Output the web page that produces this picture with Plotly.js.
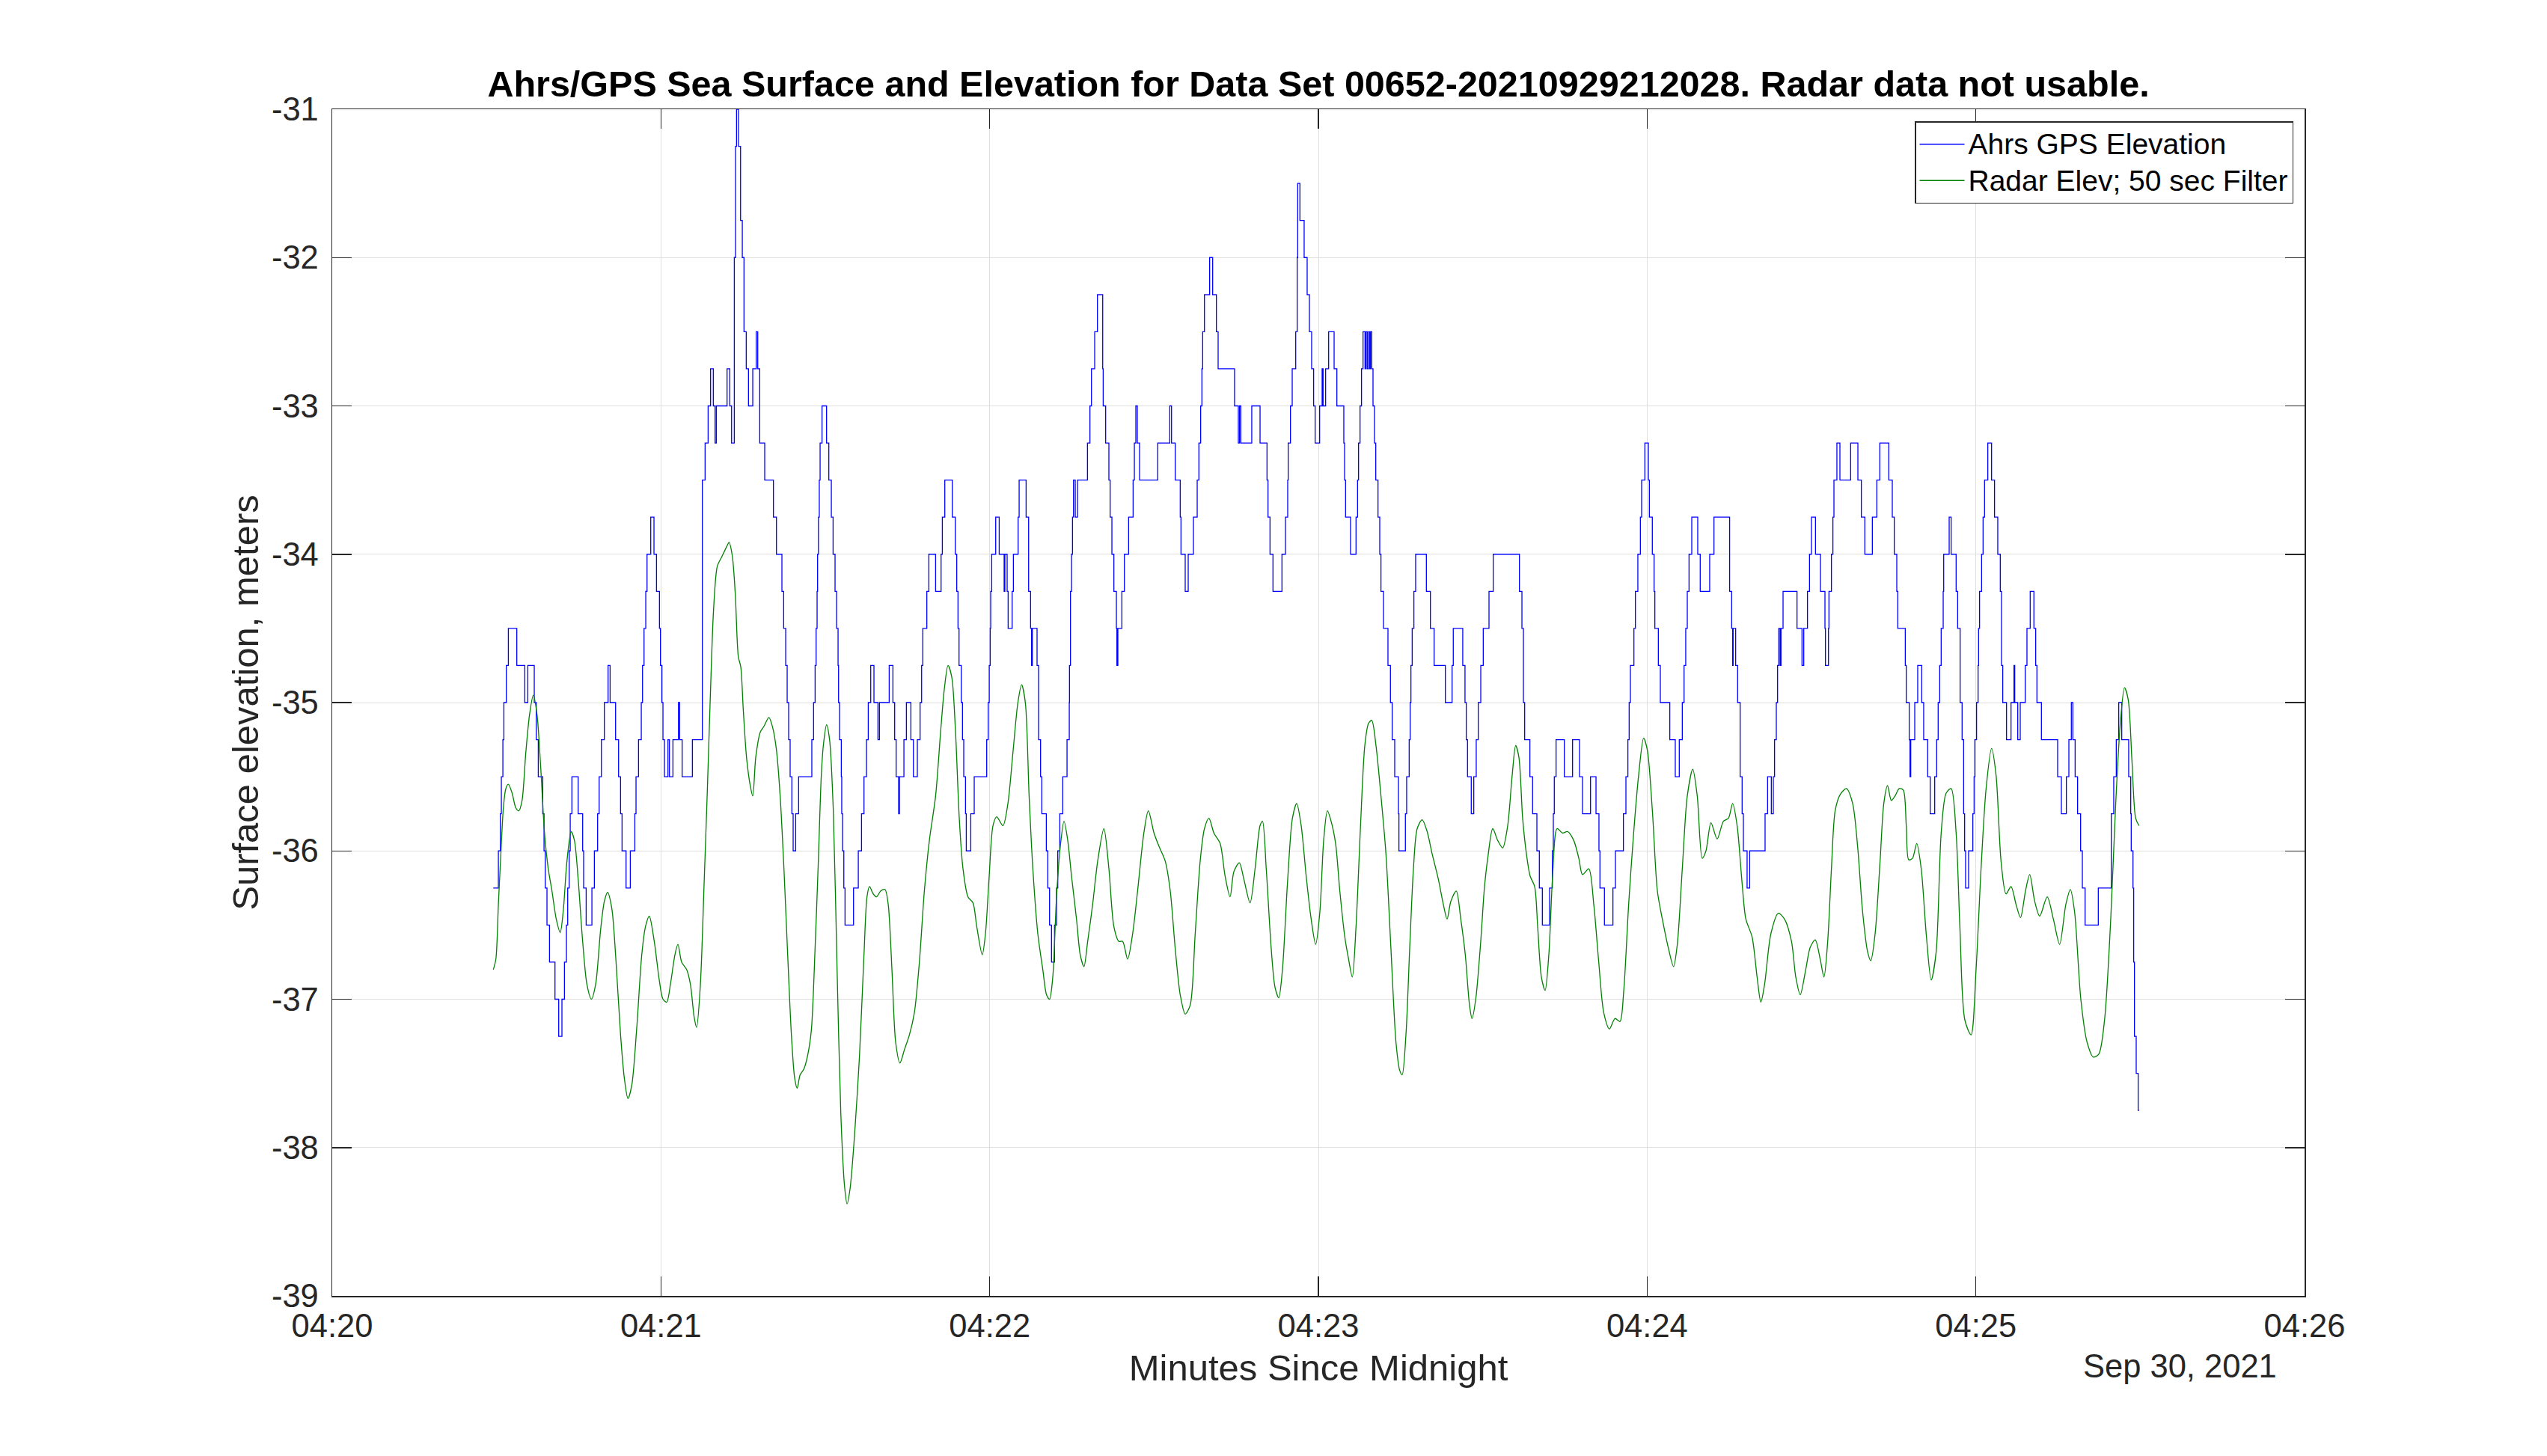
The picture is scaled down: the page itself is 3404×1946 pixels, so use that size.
<!DOCTYPE html>
<html>
<head>
<meta charset="utf-8">
<script src="https://cdn.plot.ly/plotly-3.0.1.min.js"></script>
<style>
  html, body { margin: 0; padding: 0; background: #fff; }
  #plot { width: 3404px; height: 1946px; }
</style>
</head>
<body>
<div id="plot"></div>
<script>
// seconds after 04:20:00 on Sep 30 2021, paired with elevation (m)
const ahrsSteps = [
  [29.4,-36.25],[30.33,-36],[30.69,-35.75],[30.87,-35.5],[31.15,-35.25],[31.33,-35],[31.78,-34.75],[32.15,-34.5],
  [33.69,-34.75],[35.15,-35],[35.70,-34.75],[36.88,-35],[37.24,-35.25],[37.61,-35.5],[38.43,-35.75],[38.66,-36],
  [38.88,-36.25],[39.20,-36.5],[39.66,-36.75],[40.66,-37],[41.34,-37.25],[41.93,-37],[42.39,-36.75],[42.75,-36.5],
  [42.98,-36.25],[43.25,-36],[43.44,-35.75],[43.75,-35.5],[44.89,-35.75],[45.71,-36],[45.89,-36.25],[46.35,-36.5],
  [47.40,-36.25],[47.85,-36],[48.44,-35.75],[48.72,-35.5],[49.13,-35.25],[49.67,-35],[50.35,-34.75],[50.72,-35],
  [51.72,-35.25],[52.27,-35.5],[52.63,-35.75],[52.90,-36],[53.63,-36.25],[54.41,-36],[55.23,-35.75],[55.45,-35.5],
  [55.91,-35.25],[56.41,-35],[56.64,-34.75],[56.91,-34.5],[57.23,-34.25],[57.46,-34],[58.14,-33.75],[58.73,-34],
  [59.19,-34.25],[59.73,-34.5],[59.91,-34.75],[60.18,-35],[60.37,-35.25],[60.64,-35.5],[61.28,-35.25],[61.55,-35.5],
  [62.19,-35.25],[63.19,-35],[63.42,-35.25],[63.87,-35.5],[65.74,-35.25],[67.56,-33.5],[68.06,-33.25],[68.61,-33],
  [69.06,-32.75],[69.56,-33],[69.88,-33.25],[70.11,-33],[72.07,-32.75],[72.57,-33],[72.89,-33.25],[73.39,-32],
  [73.62,-31.25],[73.80,-31],[74.16,-31.25],[74.53,-31.75],[74.85,-32],[75.16,-32.5],[75.57,-32.75],[75.98,-33],
  [76.76,-32.75],[77.39,-32.5],[77.67,-32.75],[78.03,-33.25],[78.94,-33.5],[80.53,-33.75],[81.08,-34],[82.08,-34.25],
  [82.40,-34.5],[82.77,-34.75],[83.04,-35],[83.31,-35.25],[83.58,-35.5],[83.90,-35.75],[84.13,-36],[84.59,-35.75],
  [85.13,-35.5],[87.54,-35.25],[87.86,-35],[88.14,-34.75],[88.32,-34.5],[88.50,-34.25],[88.59,-34],[88.75,-33.75],
  [88.90,-33.5],[89.05,-33.25],[89.40,-33],
  [90.23,-33.25],[90.64,-33.5],[91.10,-33.75],[91.42,-34],[91.78,-34.25],[92.06,-34.5],[92.33,-34.75],[92.42,-35],
  [92.60,-35.25],[92.92,-35.5],[93.00,-35.75],[93.15,-36],[93.38,-36.25],[93.60,-36.5],[95.15,-36.25],[96.02,-36],
  [96.61,-35.75],[97.06,-35.5],[97.52,-35.25],[97.84,-35],[98.29,-34.75],[98.88,-35],[99.61,-35.25],[99.88,-35],
  [101.66,-34.75],[102.34,-35],[102.66,-35.25],[102.93,-35.5],[103.39,-35.75],[103.53,-35.5],[104.35,-35.25],[104.80,-35],
  [105.62,-35.25],[106.08,-35.5],[106.80,-35.25],[107.30,-35],[107.58,-34.75],[107.80,-34.5],[108.53,-34.25],[108.90,-34],
  [110.13,-34.25],[111.13,-34],[111.36,-33.75],[111.81,-33.5],[113.18,-33.75],[113.72,-34],[113.99,-34.25],[114.22,-34.5],
  [114.41,-34.75],[114.82,-35],[115.04,-35.25],[115.27,-35.5],[115.59,-35.75],[115.73,-36],[116.55,-35.75],[117.18,-35.5],
  [119.46,-35.25],[119.73,-35],[119.92,-34.75],[120.10,-34.5],[120.19,-34.25],[120.37,-34],[121.10,-33.75],[121.74,-34],
  [122.64,-34.25],[122.78,-34],[123.19,-34.25],[123.37,-34.5],[124.10,-34.25],[124.33,-34],[125.19,-33.75],[125.38,-33.5],
  [126.65,-33.75],[127.11,-34.25],[127.47,-34.5],[127.65,-34.75],[127.79,-34.5],[128.65,-34.75],[128.93,-35.25],[129.29,-35.5],
  [129.52,-35.75],[130.34,-36],[130.61,-36.25],[130.93,-36.5],[131.29,-36.75],[131.84,-36.5],[132.20,-36.25],[132.43,-36],
  [132.80,-35.75],[133.34,-35.5],[134.12,-35.25],[134.53,-35],[134.57,-34.75],[134.75,-34.25],[134.94,-34],[135.12,-33.75],
  [135.30,-33.5],[135.62,-33.75],[136.03,-33.5],[137.85,-33.25],[138.30,-33],[138.58,-32.75],[139.17,-32.5],[139.67,-32.25],
  [140.63,-32.75],[140.72,-33],[141.17,-33.25],[141.76,-33.5],[141.99,-33.75],[142.31,-34],[142.67,-34.25],[143.13,-34.5],
  [143.22,-34.75],[143.40,-34.5],[144.13,-34.25],[144.59,-34],[145.36,-33.75],[146.18,-33.5],[146.41,-33.25],[146.68,-33],
  [146.95,-33.25],[147.36,-33.5],
  [150.68,-33.25],[152.87,-33],[153.19,-33.25],[153.87,-33.5],[154.78,-33.75],[154.92,-34],[155.69,-34.25],[156.24,-34],
  [157.19,-33.75],[157.88,-33.5],[158.19,-33.25],[158.51,-33],[158.74,-32.75],[158.88,-32.5],[159.20,-32.25],[160.15,-32],
  [160.70,-32.25],[161.38,-32.5],[161.70,-32.75],[164.70,-33],[165.39,-33.25],[165.61,-33],[165.84,-33.25],[167.84,-33],
  [169.35,-33.25],[170.62,-33.5],[170.80,-33.75],[171.17,-34],[171.71,-34.25],[173.35,-34],[173.99,-33.75],[174.40,-33.5],
  [174.49,-33.25],[174.90,-33],[175.22,-32.75],[175.86,-32.5],[176.13,-32],[176.22,-31.5],[176.63,-31.75],[177.40,-32],
  [177.95,-32.25],[178.36,-32.5],[178.77,-32.75],[179.13,-33],[179.41,-33.25],[180.23,-33],[180.68,-32.75],[180.86,-33],
  [181.32,-32.75],[181.87,-32.5],[182.87,-32.75],[183.37,-33],[184.64,-33.25],[184.78,-33.5],[184.96,-33.75],[185.87,-34],
  [186.87,-33.75],[187.15,-33.5],[187.33,-33.25],[187.60,-33],[187.87,-32.75],[188.15,-32.5],[188.51,-32.75],[188.69,-32.5],
  [188.92,-32.75],[189.15,-32.5],[189.38,-32.75],[189.51,-32.5],[189.74,-32.75],[189.97,-33],[190.24,-33.25],[190.47,-33.5],
  [190.88,-33.75],[191.20,-34],[191.42,-34.25],[191.88,-34.5],[192.70,-34.75],[193.15,-35],[193.47,-35.25],[193.93,-35.5],
  [194.61,-35.75],[194.70,-36],[195.88,-35.75],[196.11,-35.5],[196.57,-35.25],[196.75,-35],[196.89,-34.75],[197.12,-34.5],
  [197.43,-34.25],[197.75,-34],[199.71,-34.25],[200.44,-34.5],[201.12,-34.75],[203.17,-35],[204.40,-34.75],[204.62,-34.5],
  [206.35,-34.75],[206.76,-35],[206.99,-35.25],[207.22,-35.5],[207.90,-35.75],[208.36,-35.5],[208.81,-35.25],[209.18,-35],
  [209.64,-34.75],[210.09,-34.5],[211.14,-34.25],[211.91,-34],[216.69,-34.25],[217.15,-34.5],[217.42,-35],[217.65,-35.25],
  [218.60,-35.5],[219.10,-35.75],[219.88,-36],[220.33,-36.25],[220.88,-36.5],[222.20,-36.25],[222.70,-36],[222.88,-35.75],
  [223.06,-35.5],[223.38,-35.25],[224.89,-35.5],[226.39,-35.25],[227.66,-35.5],[228.21,-35.75],[229.67,-35.5],[230.67,-35.75],
  [231.21,-36],[231.39,-36.25],[232.21,-36.5],[233.76,-36.25],[234.22,-36],[235.67,-35.75],[236.13,-35.5],[236.49,-35.25],
  [236.72,-35],[236.95,-34.75],[237.59,-34.5],[237.86,-34.25],[238.31,-34],[238.77,-33.75],[239.00,-33.5],[239.59,-33.25],
  [240.23,-33.5],[240.41,-33.75],[240.95,-34],[241.27,-34.25],[241.41,-34.5],[242.05,-34.75],[242.41,-35],[244.14,-35.25],
  [245.14,-35.5],[245.87,-35.25],[246.42,-35],[246.74,-34.75],[247.05,-34.5],[247.33,-34.25],[247.65,-34],[248.15,-33.75],
  [249.24,-34],[249.69,-34.25],[251.42,-34],[252.20,-33.75],[255.06,-34.25],[255.43,-34.5],[255.61,-34.75],[255.70,-34.5],
  [256.16,-34.75],[256.52,-35],[256.98,-35.5],[257.34,-35.75],[257.57,-36],[258.25,-36.25],[258.71,-36],[261.53,-35.75],
  [261.99,-35.5],[262.67,-35.75],[263.03,-35.5],[263.26,-35.25],[263.58,-35],[263.81,-34.75],[264.03,-34.5],[264.26,-34.75],
  [264.44,-34.5],[264.81,-34.25],[267.36,-34.5],[268.27,-34.75],[268.59,-34.5],[269.27,-34.25],[269.64,-34],[270.00,-33.75],
  [270.73,-34],[271.64,-34.25],[272.46,-34.5],[272.55,-34.75],[273.10,-34.5],[273.19,-34.25],[273.64,-34],[273.91,-33.75],
  [274.10,-33.5],[274.64,-33.25],[275.19,-33.5],[277.15,-33.25],[278.47,-33.5],[279.10,-33.75],[279.74,-34],[281.11,-33.75],
  [281.93,-33.5],[282.47,-33.25],[284.11,-33.5],[284.75,-33.75],[285.11,-34],[285.57,-34.25],[285.75,-34.5],[287.12,-34.75],
  [287.30,-35],[287.84,-35.25],[287.98,-35.5],[288.12,-35.25],[288.85,-35],[289.39,-34.75],[290.12,-35],[290.48,-35.25],
  [291.21,-35.5],[291.67,-35.75],[292.49,-35.5],[292.85,-35.25],[293.12,-35],[293.40,-34.75],[293.67,-34.5],[294.04,-34.25],
  [294.13,-34],[295.13,-33.75],[295.49,-34],[296.40,-34.25],[296.68,-34.5],[297.13,-35],[297.49,-35.25],[297.77,-35.75],
  [297.95,-36],[298.13,-36.25],[298.68,-36],[299.45,-35.75],[299.68,-35.5],[299.82,-35.25],[300.13,-35],[300.41,-34.75],
  [300.50,-34.5],[300.68,-34.25],[301.05,-34],[301.32,-33.75],[301.59,-33.5],[302.18,-33.25],[302.87,-33.5],[303.41,-33.75],
  [304.00,-34],[304.46,-34.25],[304.69,-34.75],[304.91,-35],[305.60,-35.25],[306.42,-35],[306.96,-34.75],[307.10,-35],
  [307.65,-35.25],[308.10,-35],[309.01,-34.75],[309.33,-34.5],[309.92,-34.25],[310.60,-34.5],[310.92,-34.75],[311.15,-35],
  [311.97,-35.25],[314.93,-35.5],[315.61,-35.75],[316.52,-35.5],[316.98,-35.25],[317.43,-35],[317.71,-35.25],[318.12,-35.5],
  [318.57,-35.75],[319.12,-36],[319.44,-36.25],[319.94,-36.5],[322.35,-36.25],[324.72,-35.75],[325.17,-35.5],[325.63,-35.25],
  [326.08,-35],[326.63,-35.25],[327.90,-35.5],[328.27,-35.75],[328.36,-36],[328.68,-36.25],[328.81,-36.75],[328.95,-37.25],
  [329.27,-37.5],[329.63,-37.75],[329.80,-37.75]
];

const radarPoints = [
  [29.4,-36.80],[29.87,-36.73],[30.33,-36.36],[30.78,-36.02],[31.24,-35.71],[31.69,-35.58],[32.15,-35.55],[32.83,-35.61],
  [33.51,-35.71],[34.06,-35.73],[34.65,-35.66],[35.33,-35.34],[36.02,-35.08],[36.70,-34.95],[37.38,-35.08],[38.06,-35.44],
  [38.75,-35.88],[39.43,-36.12],[40.11,-36.27],[40.89,-36.46],[41.61,-36.55],[42.16,-36.41],[42.84,-36.07],[43.62,-35.87],
  [44.21,-35.93],[44.89,-36.19],[45.71,-36.61],[46.49,-36.90],[47.30,-37.00],[48.08,-36.90],[48.99,-36.53],[49.67,-36.34],
  [50.26,-36.28],[51.04,-36.39],[51.72,-36.70],[52.63,-37.24],[53.31,-37.53],[53.98,-37.67],[54.68,-37.58],[55.59,-37.19],
  [56.50,-36.70],[57.18,-36.51],[57.87,-36.44],[58.78,-36.61],[59.69,-36.87],[60.37,-37.00],[61.05,-37.02],[61.73,-36.90],
  [62.55,-36.70],[63.10,-36.63],[63.78,-36.75],[64.69,-36.80],[65.38,-36.90],[66.06,-37.12],[66.51,-37.19],[67.20,-36.90],
  [67.88,-36.22],[68.47,-35.59],[69.02,-34.95],[69.61,-34.37],[70.29,-34.08],[71.07,-34.02],[71.98,-33.95],[72.43,-33.92],
  [73.02,-34.01],[73.57,-34.27],[74.12,-34.69],[74.57,-34.76],[75.03,-35.05],[75.62,-35.37],[76.30,-35.56],[76.76,-35.63],
  [77.30,-35.37],[78.12,-35.20],[78.80,-35.16],[79.71,-35.10],[80.40,-35.17],[81.08,-35.32],[81.76,-35.63],[82.45,-36.12],
  [83.13,-36.70],[83.81,-37.24],[84.40,-37.53],[84.86,-37.60],[85.40,-37.51],[86.09,-37.47],[86.77,-37.38],[87.45,-37.21],
  [88.14,-36.65],[88.68,-36.12],[89.27,-35.49],[89.64,-35.29],[90.23,-35.15],[90.78,-35.25],[91.46,-35.73],[92.15,-36.80],
  [92.83,-37.77],[93.51,-38.26],[93.97,-38.38],[94.51,-38.28],[95.33,-37.92],[96.24,-37.38],[97.06,-36.70],[97.61,-36.31],
  [98.06,-36.24],[98.75,-36.29],[99.34,-36.31],[100.11,-36.27],[100.89,-36.26],[101.48,-36.36],[102.16,-36.80],[102.84,-37.29],
  [103.62,-37.43],[104.44,-37.34],[105.35,-37.24],[106.26,-37.09],[107.17,-36.75],[108.08,-36.27],[108.99,-35.93],[110.13,-35.63],
  [111.04,-35.20],[111.72,-34.91],[112.40,-34.75],[113.09,-34.83],[113.77,-35.20],[114.45,-35.78],[115.13,-36.12],[116.04,-36.31],
  [116.95,-36.35],[117.64,-36.51],[118.64,-36.70],[119.23,-36.56],[119.91,-36.17],[120.60,-35.83],[121.28,-35.77],[122.42,-35.83],
  [123.33,-35.68],[124.24,-35.34],[125.15,-35.00],[125.83,-34.88],[126.51,-35.00],[127.20,-35.63],[127.88,-36.12],[128.79,-36.56],
  [129.70,-36.80],[130.38,-36.97],[130.93,-37.00],[131.52,-36.85],[132.20,-36.31],[132.89,-35.97],[133.57,-35.80],[134.25,-35.93],
  [134.94,-36.17],[135.85,-36.46],[136.53,-36.70],[137.21,-36.78],[137.89,-36.61],[138.80,-36.36],[139.71,-36.07],[140.85,-35.85],
  [141.76,-36.12],[142.67,-36.51],[143.58,-36.61],[144.27,-36.61],[145.18,-36.73],[146.09,-36.56],[147.00,-36.27],[148.14,-35.88],
  [148.96,-35.73],[150.00,-35.88],[150.91,-35.97],[152.05,-36.07],[152.96,-36.27],[153.87,-36.66],[154.78,-36.97],[155.69,-37.10],
  [156.60,-37.04],[157.51,-36.56],[158.42,-36.07],[159.20,-35.85],[160.02,-35.78],[160.93,-35.88],[162.06,-35.95],[162.97,-36.17],
  [163.88,-36.31],[164.57,-36.14],[165.57,-36.08],[166.39,-36.19],[167.53,-36.35],[168.44,-36.12],[169.35,-35.83],[169.80,-35.80],
  [170.48,-36.12],[171.39,-36.66],[172.08,-36.92],[172.76,-36.99],[173.44,-36.80],[174.35,-36.22],[175.26,-35.78],[176.04,-35.68],
  [176.86,-35.83],[177.77,-36.17],[178.68,-36.46],[179.50,-36.63],[180.27,-36.41],[180.96,-35.93],[181.64,-35.73],[182.32,-35.80],
  [183.14,-35.95],[183.91,-36.27],[184.82,-36.58],[185.51,-36.73],[186.19,-36.85],[186.87,-36.51],[187.69,-35.83],[188.47,-35.29],
  [189.15,-35.14],[189.74,-35.12],[190.51,-35.29],[191.42,-35.63],[192.33,-36.02],[193.24,-36.66],[194.16,-37.29],[194.84,-37.48],
  [195.29,-37.51],[195.98,-37.24],[196.66,-36.66],[197.35,-36.12],[198.03,-35.85],[198.94,-35.79],[199.85,-35.87],[200.76,-36.02],
  [201.89,-36.19],[202.80,-36.36],[203.49,-36.46],[204.17,-36.34],[205.17,-36.27],[205.99,-36.46],[206.81,-36.70],[207.58,-37.04],
  [208.04,-37.13],[208.72,-37.00],[209.63,-36.61],[210.30,-36.25],[210.91,-36.05],[211.82,-35.85],[212.73,-35.93],[213.64,-35.98],
  [214.55,-35.83],[215.37,-35.49],[216.01,-35.29],[216.60,-35.37],[217.28,-35.78],[217.97,-36.02],[218.65,-36.17],[219.47,-36.24],
  [220.02,-36.51],[220.70,-36.85],[221.38,-36.94],[222.06,-36.70],[222.75,-36.17],[223.57,-35.85],[224.57,-35.88],[225.48,-35.87],
  [226.61,-35.93],[227.53,-36.05],[228.21,-36.16],[229.35,-36.12],[230.26,-36.36],[231.17,-36.75],[232.08,-37.09],[233.12,-37.20],
  [234.13,-37.13],[235.04,-37.15],[235.72,-36.95],[236.63,-36.36],[237.54,-35.88],[238.45,-35.49],[239.36,-35.24],[240.04,-35.32],
  [240.96,-35.73],[241.87,-36.27],[242.78,-36.46],[243.91,-36.66],[244.82,-36.78],[245.51,-36.63],[246.42,-36.12],[247.33,-35.63],
  [248.33,-35.45],[249.15,-35.63],[250.06,-36.05],[250.74,-36.00],[251.65,-35.81],[252.79,-35.92],[253.93,-35.80],[254.84,-35.78],
  [255.61,-35.68],[256.43,-35.83],[257.34,-36.22],[258.02,-36.46],[259.16,-36.58],[260.07,-36.85],[260.76,-37.02],[261.44,-36.90],
  [262.58,-36.56],[263.94,-36.42],[265.08,-36.46],[266.35,-36.61],[267.13,-36.85],[267.95,-36.97],[268.95,-36.80],[269.77,-36.65],
  [270.68,-36.60],[271.59,-36.73],[272.28,-36.85],[272.96,-36.61],[273.64,-36.12],[274.32,-35.73],[275.24,-35.62],[276.37,-35.58],
  [277.51,-35.68],[278.42,-35.97],[279.33,-36.41],[280.24,-36.68],[280.83,-36.74],[281.61,-36.56],[282.52,-36.07],[283.20,-35.68],
  [283.88,-35.56],[284.57,-35.66],[285.25,-35.63],[286.02,-35.58],[286.75,-35.59],[287.30,-35.83],[287.75,-36.06],[288.44,-36.05],
  [289.21,-35.95],[290.03,-36.12],[290.94,-36.56],[291.85,-36.87],[292.76,-36.68],[293.67,-35.88],[294.58,-35.61],[295.49,-35.58],
  [296.40,-35.88],[297.08,-36.51],[297.99,-37.14],[299.13,-37.24],[300.04,-36.80],[300.95,-36.12],[301.87,-35.58],[302.87,-35.31],
  [303.69,-35.49],[304.60,-36.07],[305.51,-36.29],[306.42,-36.24],[307.33,-36.36],[308.15,-36.45],[309.06,-36.27],[309.83,-36.16],
  [310.74,-36.34],[311.65,-36.44],[313.02,-36.31],[314.15,-36.46],[315.29,-36.63],[316.43,-36.36],[317.25,-36.26],[318.02,-36.41],
  [319.16,-37.00],[320.30,-37.29],[321.44,-37.39],[322.44,-37.37],[323.49,-37.14],[324.62,-36.46],[325.53,-35.68],[326.35,-35.15],
  [327.13,-34.90],[327.81,-34.98],[328.49,-35.39],[329.17,-35.78],[329.77,-35.83]
];

const yTicks = [-39, -38, -37, -36, -35, -34, -33, -32, -31];
const seriesNames = ["Ahrs GPS Elevation", "Radar Elev; 50 sec Filter"];
const dateLabel = "Sep 30, 2021";

function pad2(n) { return String(n).padStart(2, "0"); }
// seconds after 04:20:00 -> plotly date string
function stamp(sec) {
  const ms = Math.round(sec * 1000);
  const min = 20 + Math.floor(ms / 60000);
  const s = (ms % 60000) / 1000;
  return "2021-09-30 04:" + pad2(min) + ":" + s.toFixed(3).padStart(6, "0");
}

const FONT = "Liberation Sans, Arial, Helvetica, sans-serif";
const INK = "#262626";
// legend rows are spaced from the legend font size, text drawn a bit larger
const legendLabel = s => '<span style="font-size:39px">' + s + "</span>";

const traces = [
  {
    type: "scatter", mode: "lines",
    x: ahrsSteps.map(p => stamp(p[0])),
    y: ahrsSteps.map(p => p[1]),
    line: { color: "#0000ff", width: 1.3, shape: "hv" },
    name: legendLabel(seriesNames[0])
  },
  {
    type: "scatter", mode: "lines",
    x: radarPoints.map(p => stamp(p[0])),
    y: radarPoints.map(p => p[1]),
    line: { color: "#008000", width: 1.3, shape: "spline", smoothing: 0.8 },
    name: legendLabel(seriesNames[1])
  }
];

const axisCommon = {
  ticks: "inside", ticklen: 26, tickwidth: 1.5, tickcolor: INK,
  showline: true, linecolor: INK, linewidth: 1.5, mirror: "ticks",
  showgrid: true, gridcolor: "#dfdfdf", gridwidth: 1,
  zeroline: false, automargin: false,
  tickfont: { family: FONT, size: 43.5, color: INK }
};

const layout = {
  width: 3404, height: 1946,
  margin: { l: 444, r: 324, t: 146, b: 214 },
  paper_bgcolor: "#ffffff", plot_bgcolor: "#ffffff",
  font: { family: FONT, color: INK },
  showlegend: true,
  title: {
    text: "<b>Ahrs/GPS Sea Surface and Elevation for Data Set 00652-20210929212028. Radar data not usable.</b>",
    font: { family: FONT, size: 48.5, color: "#000000" },
    xref: "paper", x: 0.5, xanchor: "center",
    yref: "container", y: 1 - 112 / 1946, yanchor: "middle"
  },
  xaxis: Object.assign({}, axisCommon, {
    type: "date",
    range: [stamp(0), stamp(360)],
    tick0: stamp(0), dtick: 60000, tickformat: "%H:%M",
    ticklabelstandoff: 1,
    title: { text: "Minutes Since Midnight", font: { family: FONT, size: 49, color: INK }, standoff: 16 }
  }),
  yaxis: Object.assign({}, axisCommon, {
    range: [-39, -31],
    tickvals: yTicks, ticktext: yTicks.map(String),
    ticklabelstandoff: 8,
    title: { text: "Surface elevation, meters", font: { family: FONT, size: 49, color: INK }, standoff: 2 }
  }),
  legend: {
    x: (3065 - 444) / 2636, xanchor: "right",
    y: (1732 - 162) / 1586, yanchor: "top",
    bgcolor: "#ffffff", bordercolor: INK, borderwidth: 1.5,
    font: { family: FONT, size: 35, color: "#000000" },
    itemwidth: 60, tracegroupgap: 0
  },
  annotations: [
    {
      text: dateLabel, showarrow: false,
      xref: "paper", x: (3045 - 444) / 2636, xanchor: "right",
      yref: "paper", y: (1732 - 1826) / 1586, yanchor: "middle",
      font: { family: FONT, size: 43.5, color: INK }
    }
  ]
};

Plotly.newPlot("plot", traces, layout, { staticPlot: true, displayModeBar: false });
</script>
</body>
</html>
